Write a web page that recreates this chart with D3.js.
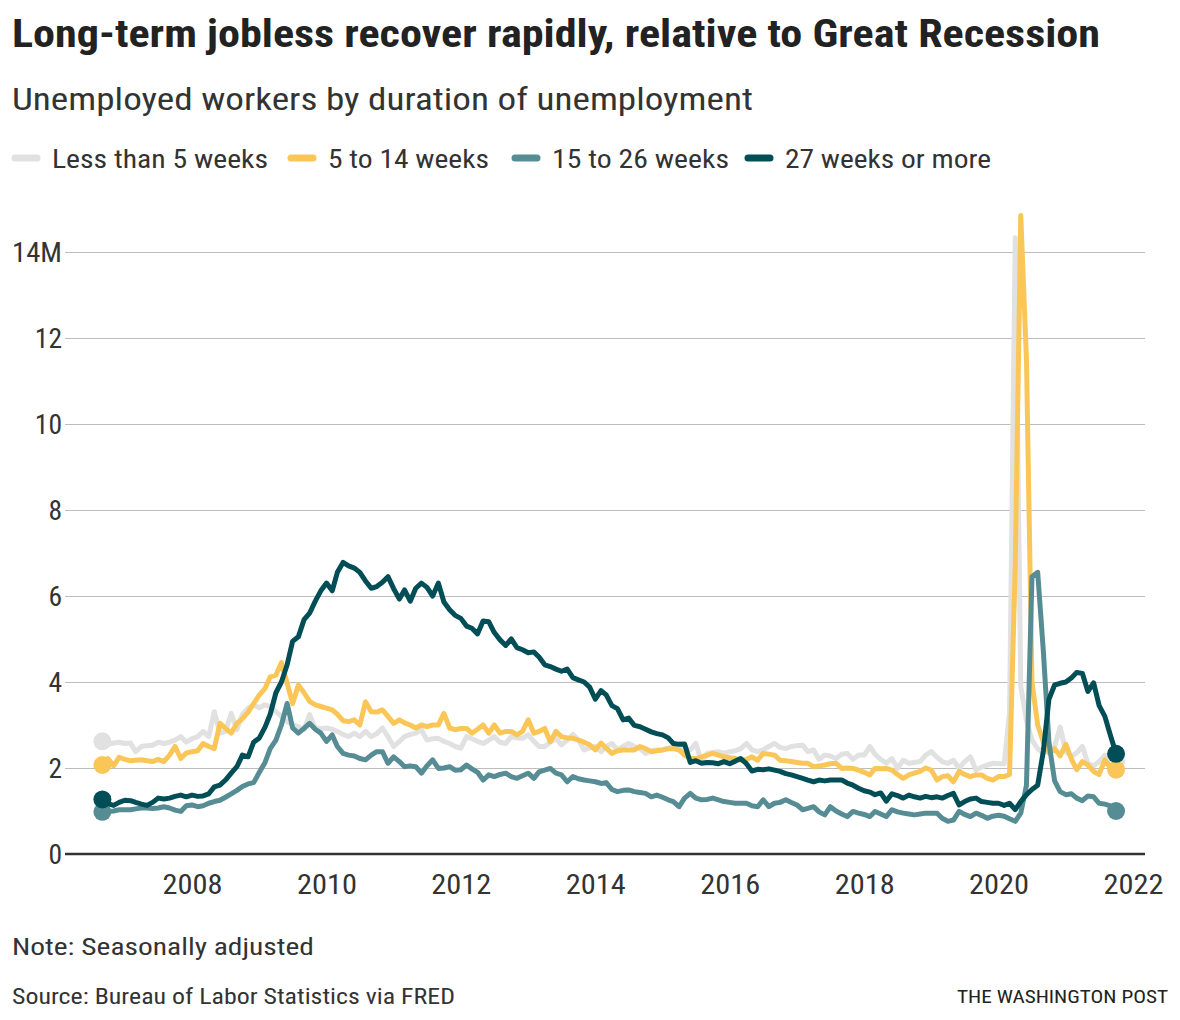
<!DOCTYPE html>
<html><head><meta charset="utf-8">
<script src="https://cdn.jsdelivr.net/npm/d3@7"></script>
<style>
html,body{margin:0;padding:0;background:#fff;}
svg{display:block;}
text{font-family:"Liberation Sans Narrow","Roboto Condensed","Roboto","Liberation Sans",sans-serif;}
</style></head><body>
<svg id="chart" width="1180" height="1020"></svg>
<script>
// ---------- DATA (monthly, starting Sep 2006, millions of people) ----------
const startMonth = "2006-09";
const seriesNames = ["Less than 5 weeks", "5 to 14 weeks", "15 to 26 weeks", "27 weeks or more"];
const seriesColors = ["#e1e1e1", "#fbc658", "#568d94", "#024e56"];

const lessThan5 = [
  2.62, 2.55, 2.58, 2.6,
  2.57, 2.58, 2.38, 2.5, 2.52, 2.53, 2.6, 2.57, 2.6, 2.65, 2.73, 2.6,
  2.68, 2.73, 2.85, 2.73, 3.31, 2.81, 2.85, 3.27, 2.89, 3.25, 3.39, 3.47,
  3.4, 3.47, 3.43, 3.31, 3.2, 3.08, 3.0, 2.96, 2.9, 3.24, 2.93, 2.92,
  2.93, 2.9, 2.85, 2.78, 2.73, 2.81, 2.73, 2.85, 2.73, 2.8, 2.93, 2.73,
  2.5, 2.62, 2.73, 2.78, 2.81, 2.89, 2.65, 2.68, 2.69, 2.62, 2.57, 2.5,
  2.46, 2.73, 2.68, 2.62, 2.57, 2.65, 2.73, 2.6, 2.57, 2.73, 2.7, 2.69,
  2.77, 2.62, 2.5, 2.5, 2.6, 2.69, 2.54, 2.65, 2.78, 2.65, 2.42, 2.47,
  2.5, 2.38, 2.5, 2.57, 2.42, 2.5, 2.57, 2.5, 2.45, 2.34, 2.4, 2.42,
  2.42, 2.46, 2.5, 2.57, 2.45, 2.42, 2.57, 2.15, 2.34, 2.36, 2.38, 2.34,
  2.38, 2.4, 2.45, 2.57, 2.42, 2.38, 2.42, 2.5, 2.57, 2.48, 2.45, 2.5,
  2.52, 2.53, 2.38, 2.42, 2.2, 2.3, 2.28, 2.22, 2.32, 2.34, 2.2, 2.3,
  2.3, 2.5, 2.32, 2.2, 2.11, 2.22, 1.99, 2.18, 2.11, 2.13, 2.15, 2.3,
  2.38, 2.25, 2.15, 2.11, 2.18, 1.99, 2.15, 2.26, 1.95, 2.02, 2.07, 2.11,
  2.1, 2.1, 3.3, 14.33, 3.9, 3.1, 2.65, 2.45, 2.35, 2.45, 2.5, 2.95,
  2.38, 2.27, 2.35, 2.5, 2.1, 2.05, 2.15, 2.3, 2.2, 2.15
];

const weeks5to14 = [
  2.07, 2.22, 2.05, 2.25,
  2.2, 2.17, 2.18, 2.19, 2.17, 2.15, 2.2, 2.15, 2.3, 2.5, 2.22, 2.35,
  2.38, 2.4, 2.57, 2.5, 2.45, 3.04, 2.92, 2.81, 3.04, 3.15, 3.3, 3.5,
  3.7, 3.85, 4.12, 4.16, 4.45, 3.97, 3.5, 3.93, 3.75, 3.55, 3.47, 3.43,
  3.39, 3.35, 3.25, 3.1, 3.08, 3.12, 3.0, 3.54, 3.31, 3.3, 3.35, 3.2,
  3.04, 3.12, 3.05, 3.0, 2.93, 3.0, 2.96, 3.0, 3.0, 3.27, 2.93, 2.89,
  2.92, 2.92, 2.81, 2.9, 3.0, 2.81, 3.0, 2.81, 2.85, 2.85, 2.77, 2.85,
  3.12, 2.81, 2.85, 2.92, 2.61, 2.85, 2.73, 2.7, 2.69, 2.65, 2.6, 2.54,
  2.42, 2.58, 2.46, 2.34, 2.4, 2.42, 2.42, 2.42, 2.5, 2.45, 2.38, 2.4,
  2.42, 2.45, 2.45, 2.42, 2.3, 2.22, 2.22, 2.26, 2.3, 2.34, 2.3, 2.26,
  2.24, 2.22, 2.18, 2.2, 2.26, 2.18, 2.34, 2.32, 2.3, 2.18, 2.17, 2.15,
  2.13, 2.11, 2.11, 2.03, 2.05, 2.07, 2.1, 2.11, 1.99, 2.0, 1.99, 1.95,
  1.9, 1.84, 1.99, 1.98, 1.99, 1.95, 1.85, 1.76, 1.84, 1.88, 1.92, 2.0,
  1.95, 1.72, 1.8, 1.82, 1.68, 1.92, 1.85, 1.8, 1.84, 1.84, 1.76, 1.72,
  1.8, 1.8, 1.85, 6.7, 14.85, 11.5, 4.0, 3.0, 2.6, 2.35, 2.45, 2.28,
  2.55, 2.2, 1.96, 2.15, 2.07, 1.92, 1.85, 2.19, 1.99, 1.96
];

const weeks15to26 = [
  0.98, 0.99, 1.0, 1.03,
  1.03, 1.03, 1.05, 1.07, 1.07, 1.06, 1.07, 1.1, 1.07, 1.02, 0.99, 1.12,
  1.14, 1.1, 1.12, 1.18, 1.22, 1.25, 1.32, 1.4, 1.48, 1.57, 1.63, 1.66,
  1.9, 2.13, 2.45, 2.65, 3.0, 3.5, 2.93, 2.81, 2.92, 3.04, 2.9, 2.81,
  2.62, 2.77, 2.5, 2.34, 2.3, 2.28, 2.22, 2.19, 2.3, 2.38, 2.38, 2.11,
  2.26, 2.15, 2.03, 2.05, 2.03, 1.88, 2.05, 2.19, 1.99, 2.0, 2.03, 1.95,
  1.96, 2.07, 1.98, 1.9, 1.72, 1.84, 1.8, 1.85, 1.88, 1.8, 1.76, 1.82,
  1.88, 1.76, 1.91, 1.95, 1.99, 1.88, 1.84, 1.68, 1.8, 1.75, 1.72, 1.7,
  1.68, 1.64, 1.66, 1.5, 1.45, 1.48, 1.49, 1.45, 1.43, 1.41, 1.33, 1.37,
  1.32, 1.26, 1.22, 1.1, 1.3, 1.41, 1.3, 1.26, 1.27, 1.3, 1.26, 1.22,
  1.2, 1.18, 1.18, 1.18, 1.12, 1.1, 1.26, 1.1, 1.18, 1.2, 1.26, 1.2,
  1.14, 1.03, 1.06, 1.1, 0.98, 0.91, 1.1, 1.0, 0.93, 0.87, 0.99, 0.95,
  0.92, 0.87, 0.99, 0.93, 0.87, 1.03, 0.98, 0.95, 0.93, 0.91, 0.93, 0.95,
  0.95, 0.95, 0.83, 0.76, 0.79, 0.99, 0.92, 0.87, 0.95, 0.9, 0.83, 0.88,
  0.9, 0.88, 0.82, 0.76, 0.95, 1.6, 6.45, 6.55, 4.7, 2.6, 1.7, 1.45,
  1.38, 1.4, 1.3, 1.24, 1.35, 1.33, 1.18, 1.16, 1.12, 1.0
];

const weeks27plus = [
  1.27, 1.17, 1.13, 1.2,
  1.25, 1.24, 1.2, 1.16, 1.13, 1.2, 1.3, 1.28, 1.3, 1.34, 1.37, 1.33,
  1.37, 1.34, 1.35, 1.4, 1.56, 1.6, 1.72, 1.88, 2.03, 2.3, 2.26, 2.6,
  2.7, 2.95, 3.25, 3.75, 4.0, 4.4, 4.95, 5.05, 5.45, 5.6, 5.88, 6.12,
  6.3, 6.12, 6.55, 6.78, 6.7, 6.65, 6.55, 6.35, 6.18, 6.22, 6.32, 6.45,
  6.17, 5.93, 6.14, 5.88, 6.18, 6.3, 6.2, 6.0, 6.3, 5.86, 5.68, 5.55,
  5.48, 5.3, 5.25, 5.12, 5.42, 5.4, 5.15, 4.98, 4.85, 5.0, 4.8, 4.75,
  4.68, 4.7, 4.58, 4.4, 4.36, 4.3, 4.25, 4.3, 4.1, 4.05, 4.0, 3.88,
  3.6, 3.8, 3.7, 3.45, 3.38, 3.12, 3.16, 2.99, 2.96, 2.9, 2.84, 2.8,
  2.77, 2.7, 2.57, 2.55, 2.56, 2.13, 2.17, 2.11, 2.13, 2.12, 2.1, 2.15,
  2.1, 2.16, 2.22, 2.1, 1.93, 1.97, 1.96, 1.98, 1.95, 1.92, 1.87, 1.84,
  1.8, 1.76, 1.72, 1.68, 1.72, 1.7, 1.72, 1.72, 1.72, 1.65, 1.6, 1.53,
  1.47, 1.44, 1.38, 1.42, 1.23, 1.4, 1.36, 1.3, 1.37, 1.33, 1.3, 1.34,
  1.31, 1.33, 1.3, 1.36, 1.41, 1.14, 1.22, 1.28, 1.3, 1.22, 1.2, 1.18,
  1.18, 1.13, 1.18, 1.03, 1.22, 1.38, 1.5, 1.6, 2.4, 3.6, 3.93, 3.97,
  4.0, 4.1, 4.22, 4.2, 3.78, 3.98, 3.45, 3.2, 2.75, 2.33
];

const yTicks = [0, 2, 4, 6, 8, 10, 12, 14];
const yTickLabels = ["0", "2", "4", "6", "8", "10", "12", "14M"];
const xTickYears = [2008, 2010, 2012, 2014, 2016, 2018, 2020, 2022];

const titleText = "Long-term jobless recover rapidly, relative to Great Recession";
const subtitleText = "Unemployed workers by duration of unemployment";
const noteText = "Note: Seasonally adjusted";
const sourceText = "Source: Bureau of Labor Statistics via FRED";
const creditText = "THE WASHINGTON POST";

// ---------- CHART ----------
const svg = d3.select("#chart");
const allSeries = [lessThan5, weeks5to14, weeks15to26, weeks27plus];
const start = d3.utcParse("%Y-%m")(startMonth);

const x = d3.scaleUtc()
  .domain([new Date(Date.UTC(2008, 0, 1)), new Date(Date.UTC(2022, 0, 1))])
  .range([192, 1133]);
const y = d3.scaleLinear().domain([0, 14]).range([854, 252]);
const plotLeft = 65, plotRight = 1145;

function fitOne(node, target) {
  const len = node.getComputedTextLength();
  if (Math.abs(len - target) / target > 0.015) {
    d3.select(node).attr("textLength", target).attr("lengthAdjust", "spacingAndGlyphs");
  }
}
function fit(sel, target) {
  sel.each(function () { fitOne(this, target); });
}

// Title / subtitle
svg.append("text").attr("x", 12).attr("y", 47)
  .attr("font-size", 39).attr("font-weight", 700).attr("fill", "#222")
  .text(titleText).call(fit, 1088);
svg.append("text").attr("x", 12).attr("y", 110)
  .attr("font-size", 32).attr("fill", "#333")
  .text(subtitleText).call(fit, 741);

// Legend
const legendX = [12, 288, 512, 745];
const legendW = [216, 161, 177, 206];
const lg = svg.append("g");
seriesNames.forEach((name, i) => {
  lg.append("line").attr("x1", legendX[i] + 3).attr("x2", legendX[i] + 25)
    .attr("y1", 158).attr("y2", 158)
    .attr("stroke", seriesColors[i]).attr("stroke-width", 7).attr("stroke-linecap", "round");
  lg.append("text").attr("x", legendX[i] + 40).attr("y", 168)
    .attr("font-size", 25).attr("fill", "#333")
    .text(name).call(fit, legendW[i]);
});

// Y axis with gridlines
const yAxis = d3.axisLeft(y).tickValues(yTicks)
  .tickFormat((d, i) => yTickLabels[i])
  .tickSize(-(plotRight - plotLeft)).tickPadding(3);
const gy = svg.append("g").attr("transform", `translate(${plotLeft},0)`).call(yAxis);
gy.select(".domain").remove();
gy.attr("font-family", null).attr("font-size", null);
gy.selectAll(".tick line").attr("stroke", "#bdbdbd").attr("stroke-width", 1);
gy.selectAll(".tick text").attr("font-size", 28).attr("fill", "#333").attr("dy", 9)
  .each(function () {
    const t = d3.select(this).text();
    fitOne(this, t === "14M" ? 50 : 13.6 * t.length);
  });
gy.selectAll(".tick").filter(d => d === 0).select("line").remove();

// Baseline
svg.append("line").attr("x1", plotLeft).attr("x2", plotRight)
  .attr("y1", y(0)).attr("y2", y(0))
  .attr("stroke", "#333").attr("stroke-width", 2.5);

// X axis labels
const xAxis = d3.axisBottom(x)
  .tickValues(xTickYears.map(yr => new Date(Date.UTC(yr, 0, 1))))
  .tickFormat(d3.utcFormat("%Y")).tickSize(0);
const gx = svg.append("g").attr("transform", `translate(0,${y(0)})`).call(xAxis);
gx.select(".domain").remove();
gx.attr("font-family", null).attr("font-size", null);
gx.selectAll(".tick text").attr("font-size", 28).attr("fill", "#333")
  .attr("y", 40).attr("dy", 0)
  .each(function () { fitOne(this, 60); });

// Lines
const line = d3.line()
  .x((d, i) => x(d3.utcMonth.offset(start, i)))
  .y(d => y(d))
  .curve(d3.curveLinear);

allSeries.forEach((vals, si) => {
  svg.append("path").datum(vals)
    .attr("d", line)
    .attr("fill", "none")
    .attr("stroke", seriesColors[si])
    .attr("stroke-width", 5)
    .attr("stroke-linejoin", "round")
    .attr("stroke-linecap", "round");
  const ends = [0, vals.length - 1];
  svg.selectAll(null).data(ends).enter().append("circle")
    .attr("cx", i => x(d3.utcMonth.offset(start, i)))
    .attr("cy", i => y(vals[i]))
    .attr("r", 9)
    .attr("fill", seriesColors[si]);
});

// Footer
svg.append("text").attr("x", 12).attr("y", 955)
  .attr("font-size", 24).attr("fill", "#333").text(noteText).call(fit, 302);
svg.append("text").attr("x", 12).attr("y", 1004)
  .attr("font-size", 22).attr("fill", "#333").text(sourceText).call(fit, 443);
svg.append("text").attr("x", 957).attr("y", 1003)
  .attr("font-size", 19).attr("fill", "#222").text(creditText).call(fit, 211);
</script>
</body></html>
